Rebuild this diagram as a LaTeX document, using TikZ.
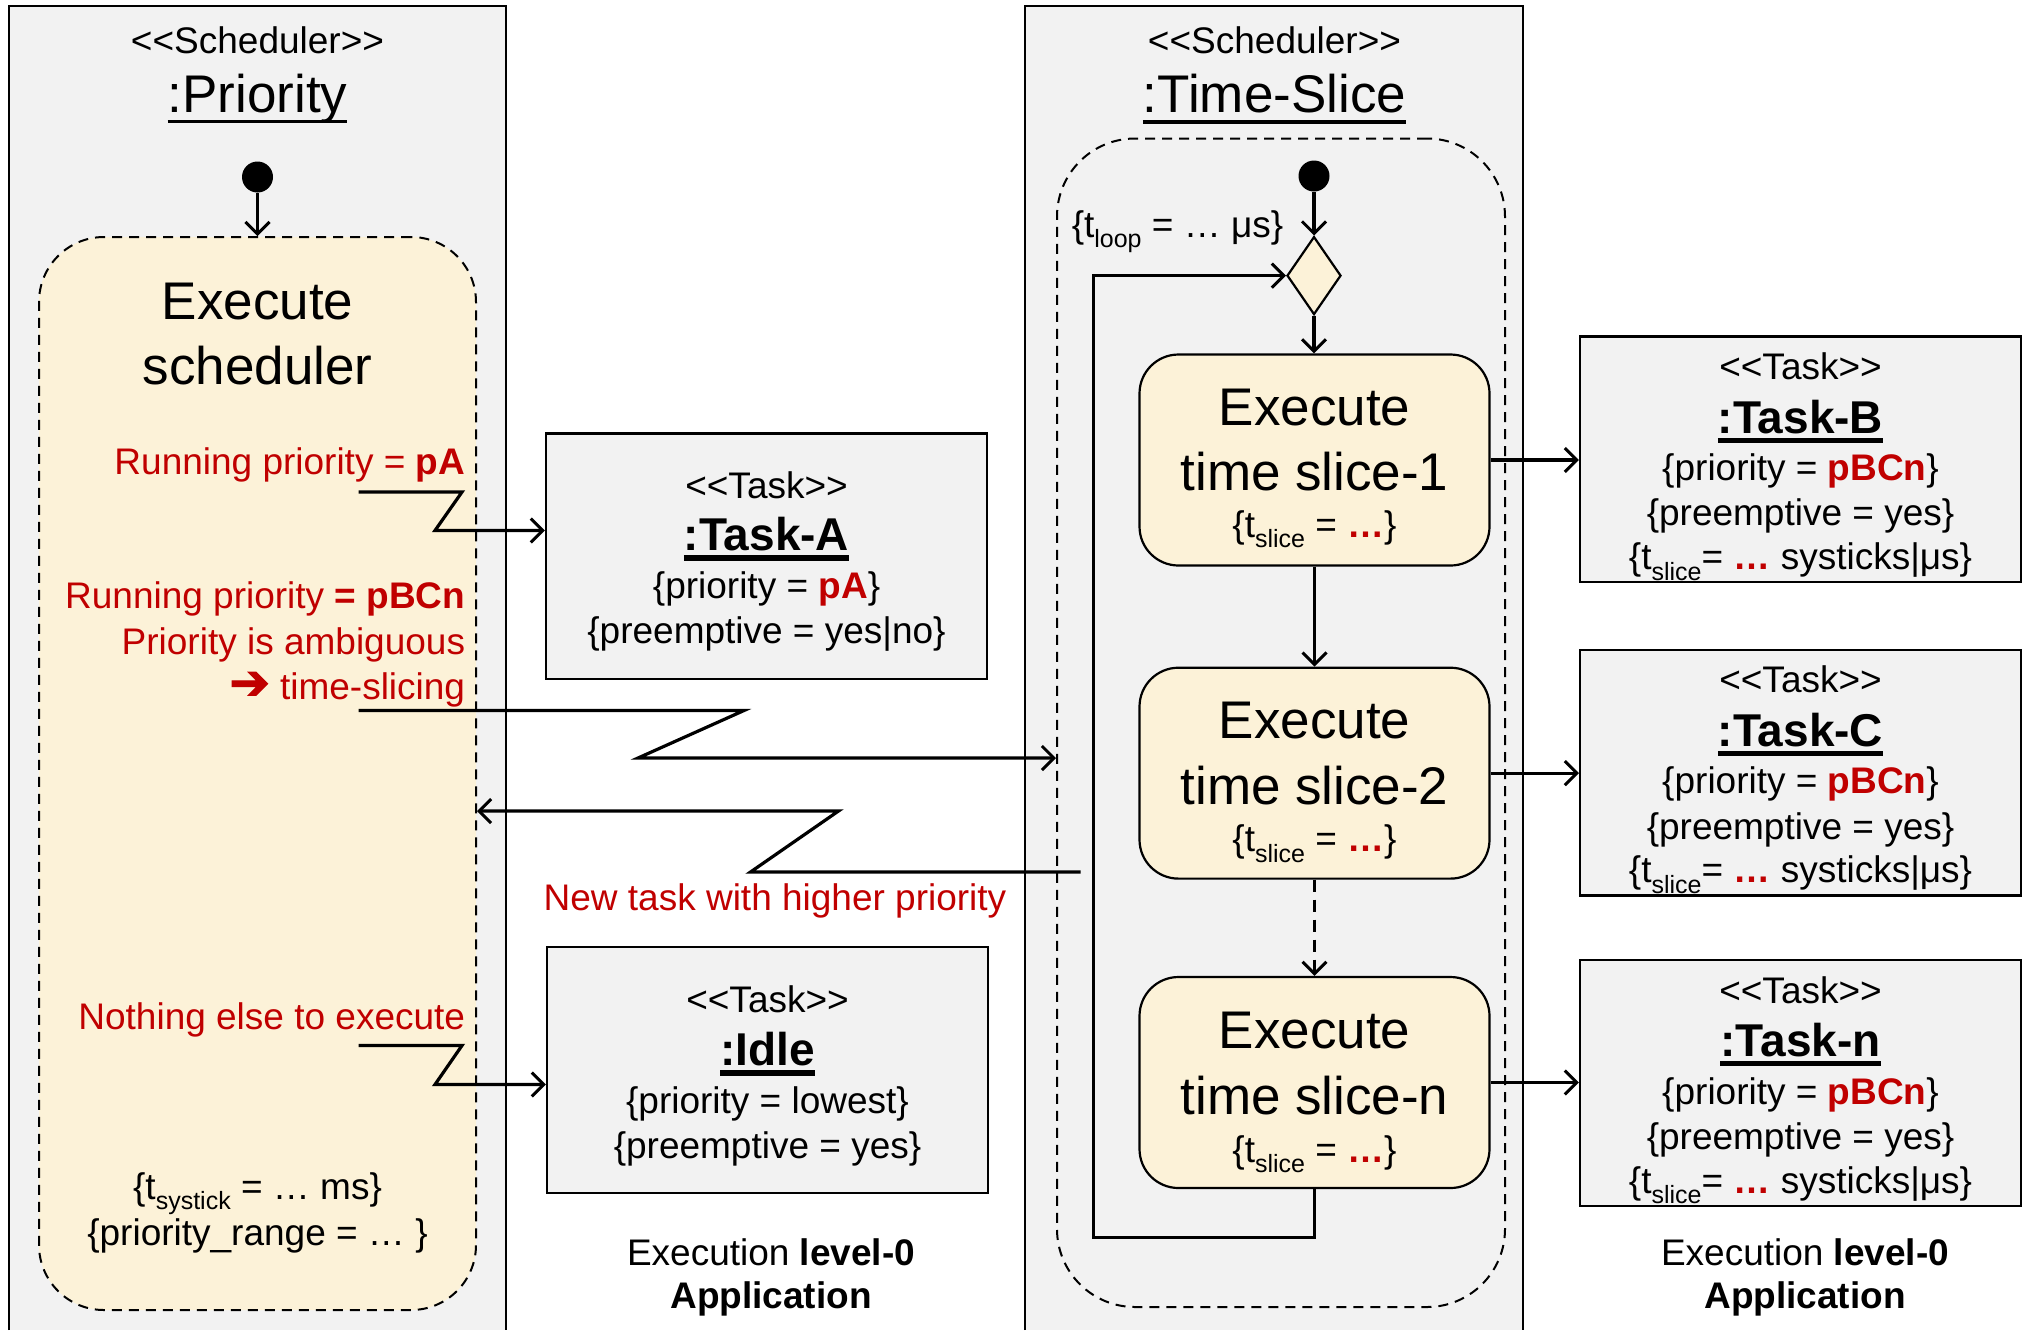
\documentclass[tikz,border=0pt]{standalone}
\usepackage{fontspec}
\setmainfont{Liberation Sans}
\newfontfamily\symfont{DejaVu Sans}[FakeBold=2.5]
\usetikzlibrary{arrows.meta,shapes.geometric,fit}

\definecolor{panelgray}{HTML}{F2F2F2}
\definecolor{statefill}{HTML}{FCF2D8}
\definecolor{hot}{HTML}{C00000}

% font sizes (picture unit: 1 = 0.5pt)
\newcommand\fsmall{\fontsize{18.5}{22}\selectfont}
\newcommand\fname{\fontsize{23}{27}\selectfont\bfseries}
\newcommand\fbig{\fontsize{26.5}{31}\selectfont}
% subscript, underline, highlighted value, stereotype
\newcommand\sbs[1]{\raisebox{-0.28em}{\fontsize{12.5}{14}\selectfont #1}}
\newcommand\ulbox[2]{\leavevmode\setbox0\hbox{#2}\rlap{\smash{\raisebox{-0.21em}{\rule{\wd0}{#1}}}}\box0}
\newcommand\hl[1]{\textcolor{hot}{\bfseries #1}}
\newcommand\stereo[1]{\mbox{<}\mbox{<}#1\mbox{>}\mbox{>}}

\tikzset{
  txt/.style={inner sep=0pt, font=\fsmall},
  brc/.style={txt, yshift=-1.3pt},
  redtxt/.style={inner sep=0pt, font=\fsmall, text=hot, anchor=east, yshift=-1.3pt},
  ttl/.style={inner sep=0pt, font=\fbig},
  nm/.style={inner sep=0pt, font=\fname},
  panelline/.style={line width=0.9pt},
  taskbox/.style={draw, fill=panelgray, line width=1.1pt, inner sep=0pt},
  statebox/.style={draw, fill=statefill, line width=1.1pt, rounded corners=19.5pt, inner sep=0pt},
  dashpat/.style={dash pattern=on 5pt off 3.5pt},
  region/.style={draw, line width=1pt, dashpat, inner sep=0pt},
  flow/.style={line width=1.6pt, -{Straight Barb[length=6pt,width=12pt,line width=1.5pt]}},
  bolt/.style={flow, line join=miter},
  startdot/.style={circle, fill=black, minimum size=15.5pt, inner sep=0pt},
}

\begin{document}
\begin{tikzpicture}[x=0.5pt,y=-0.5pt]
\useasboundingbox (0,0) rectangle (2029,1330);

% ---------- scheduler panels ----------
\fill[panelgray] (9,6) rectangle (506,1330);
\draw[panelline] (9,1330) -- (9,6) -- (506,6) -- (506,1330);
\fill[panelgray] (1025,6) rectangle (1523,1330);
\draw[panelline] (1025,1330) -- (1025,6) -- (1523,6) -- (1523,1330);

\node[txt] (lstereo) at (257.5,40) {\stereo{Scheduler}};
\node[ttl] (ltitle) at (257.5,98.5) {\ulbox{1.8pt}{:Priority}};
\node[txt] (rstereo) at (1274.5,40) {\stereo{Scheduler}};
\node[ttl] (rtitle) at (1274.5,94) {\ulbox{1.8pt}{:Time-Slice}};

% ---------- priority scheduler ----------
\node[region, fill=statefill, rounded corners=32.5pt, fit={(39,237) (476,1310)}] (pregion) {};
\node[startdot] (ldot) at (257.5,177) {};
\draw[flow] (ldot) -- (pregion.north);

\node[ttl] (exe1) at (257.5,301.5) {Execute};
\node[ttl] (exe2) at (257.5,366) {scheduler};

\node[redtxt] (run1) at (465.5,462) {Running priority = \textbf{pA}};
\node[redtxt] (run2) at (465.5,596.5) {Running priority \textbf{= pBCn}};
\node[redtxt] (amb) at (465.5,642) {Priority is ambiguous};
\node[redtxt] (tsl) at (465.5,687) {\raisebox{0.01em}{\scalebox{1.3}{\symfont ➔}}\ time-slicing};
\node[redtxt] (nothing) at (465.5,1017) {Nothing else to execute};

\node[brc] (systick) at (257.5,1191) {\{t\sbs{systick} = … ms\}};
\node[brc] (prange) at (257.5,1233) {\{priority\_range = … \}};

% ---------- tasks of level 0 (left) ----------
\node[taskbox, fit={(546,433.5) (987,679)}] (taskA) {};
\node[txt] (taskAst) at (766.5,485) {\stereo{Task}};
\node[nm] (taskAnm) at (766.5,534.5) {\ulbox{2.6pt}{:Task-A}};
\node[brc] (taskAp) at (766.5,586) {\{priority = \hl{pA}\}};
\node[brc] (taskAe) at (766.5,631.5) {\{preemptive = yes|no\}};

\node[taskbox, fit={(547,947) (988,1193)}] (idle) {};
\node[txt] (idlest) at (767.5,999) {\stereo{Task}};
\node[nm] (idlenm) at (767.5,1049.5) {\ulbox{2.6pt}{:Idle}};
\node[brc] (idlep) at (767.5,1101) {\{priority = lowest\}};
\node[brc] (idlee) at (767.5,1146.5) {\{preemptive = yes\}};

\node[redtxt, anchor=center] (newtask) at (775,898) {New task with higher priority};

\node[txt] (lvl1) at (771,1252.5) {Execution \textbf{level-0}};
\node[txt, font=\fsmall\bfseries] (app1) at (771,1299) {Application};

% ---------- time-slice scheduler ----------
\node[region, rounded corners=39pt, fit={(1057,138.5) (1505,1307)}] (tsregion) {};
\node[startdot] (rdot) at (1314,176) {};
\node[diamond, draw, fill=statefill, line width=1.1pt, minimum width=27pt, minimum height=39pt, inner sep=0pt] (dia) at (1314,275.6) {};
\node[brc] (tloop) at (1177.5,229) {\{t\sbs{loop} = … μs\}};

\node[statebox, fit={(1139.5,354.5) (1489.5,565.5)}] (s1) {};
\node[ttl] (s1a) at (1314.5,407.6) {Execute};
\node[ttl] (s1b) at (1314.5,472) {time slice-1};
\node[brc] (s1c) at (1314.5,526.7) {\{t\sbs{slice} = \hl{…}\}};

\node[statebox, fit={(1139.5,667.7) (1489.5,878.6)}] (s2) {};
\node[ttl] (s2a) at (1314.5,720.8) {Execute};
\node[ttl] (s2b) at (1314.5,785.5) {time slice-2};
\node[brc] (s2c) at (1314.5,841) {\{t\sbs{slice} = \hl{…}\}};

\node[statebox, fit={(1139.5,977) (1489.5,1188)}] (sn) {};
\node[ttl] (sna) at (1314.5,1031) {Execute};
\node[ttl] (snb) at (1314.5,1096) {time slice-n};
\node[brc] (snc) at (1314.5,1151.7) {\{t\sbs{slice} = \hl{…}\}};

\draw[flow] (rdot) -- (dia.north);
\draw[flow] (dia.south) -- (s1.north -| dia.south);
\draw[flow] (s1.south) -- (s2.north);
\draw[flow, dash pattern=on 6pt off 4pt] (s2.south) -- (sn.north);
\draw[flow] (sn.south) -- ++(0,48) -| (1093.4,275.6) -- (dia.west);

% ---------- tasks of level 0 (right) ----------
\node[taskbox, fit={(1580,336.5) (2021,582.3)}] (taskB) {};
\node[txt] (taskBst) at (1800.5,366) {\stereo{Task}};
\node[nm] (taskBnm) at (1800.5,416.7) {\ulbox{2.6pt}{:Task-B}};
\node[brc] (taskBp) at (1800.5,468.4) {\{priority = \hl{pBCn}\}};
\node[brc] (taskBe) at (1800.5,513.7) {\{preemptive = yes\}};
\node[brc] (taskBt) at (1800.5,559) {\{t\sbs{slice}= \hl{…} systicks|μs\}};

\node[taskbox, fit={(1580,649.6) (2021,895.5)}] (taskC) {};
\node[txt] (taskCst) at (1800.5,679.4) {\stereo{Task}};
\node[nm] (taskCnm) at (1800.5,729.8) {\ulbox{2.6pt}{:Task-C}};
\node[brc] (taskCp) at (1800.5,781.6) {\{priority = \hl{pBCn}\}};
\node[brc] (taskCe) at (1800.5,826.9) {\{preemptive = yes\}};
\node[brc] (taskCt) at (1800.5,872.2) {\{t\sbs{slice}= \hl{…} systicks|μs\}};

\node[taskbox, fit={(1580,960) (2021,1206)}] (taskN) {};
\node[txt] (taskNst) at (1800.5,990) {\stereo{Task}};
\node[nm] (taskNnm) at (1800.5,1040) {\ulbox{2.6pt}{:Task-n}};
\node[brc] (taskNp) at (1800.5,1092) {\{priority = \hl{pBCn}\}};
\node[brc] (taskNe) at (1800.5,1137.4) {\{preemptive = yes\}};
\node[brc] (taskNt) at (1800.5,1182.7) {\{t\sbs{slice}= \hl{…} systicks|μs\}};

\node[txt] (lvl2) at (1805,1252.5) {Execution \textbf{level-0}};
\node[txt, font=\fsmall\bfseries] (app2) at (1805,1299) {Application};

\draw[flow] (s1.east) -- (taskB.west |- s1.east);
\draw[flow] (s2.east) -- (taskC.west |- s2.east);
\draw[flow] (sn.east) -- (taskN.west |- sn.east);

% ---------- dispatch signals ----------
\coordinate (b1a) at (358.5,492);
\coordinate (b1b) at (462,492);
\coordinate (b1c) at (435,530.5);
\draw[bolt] (b1a) -- (b1b) -- (b1c) -- (b1c -| taskA.west);

\coordinate (b2a) at (358.5,710.5);
\coordinate (b2b) at (744,710.5);
\coordinate (b2c) at (638,758);
\draw[bolt] (b2a) -- (b2b) -- (b2c) -- (b2c -| tsregion.west);

\coordinate (b3a) at (1080.5,872);
\coordinate (b3b) at (750.5,872);
\coordinate (b3c) at (838.5,811);
\draw[bolt] (b3a) -- (b3b) -- (b3c) -- (b3c -| pregion.east);

\coordinate (b4a) at (358.5,1045.5);
\coordinate (b4b) at (462,1045.5);
\coordinate (b4c) at (435,1084.5);
\draw[bolt] (b4a) -- (b4b) -- (b4c) -- (b4c -| idle.west);
\end{tikzpicture}
\end{document}
